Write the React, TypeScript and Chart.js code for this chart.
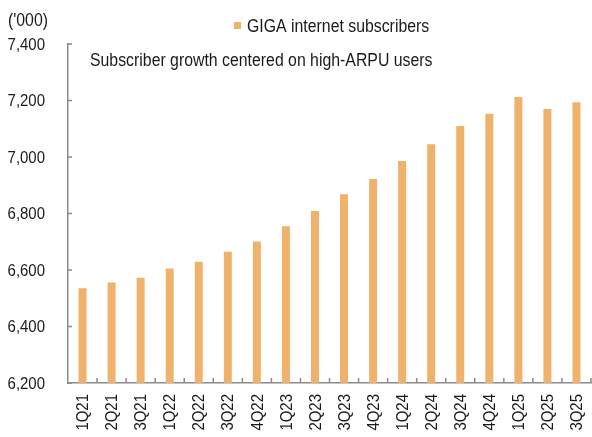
import React, { useEffect, useRef } from "react";
import { Chart, registerables } from "chart.js";

Chart.register(...registerables);

const categories = ["1Q21","2Q21","3Q21","1Q22","2Q22","3Q22","4Q22","1Q23","2Q23","3Q23","4Q23","1Q24","2Q24","3Q24","4Q24","1Q25","2Q25","3Q25"];
const subscribers = [6535, 6556, 6573, 6605, 6629, 6665, 6701, 6755, 6809, 6868, 6922, 6986, 7045, 7110, 7153, 7212, 7170, 7194];
const yTicks = [6200, 6400, 6600, 6800, 7000, 7200, 7400];
const seriesLabel = "GIGA internet subscribers";
const unitLabel = "('000)";
const noteText = "Subscriber growth centered on high-ARPU users";

const FONT = "'Liberation Sans', Arial, sans-serif";
const BAR = "#F0B26B";
const AXIS = "#8a8a8a";
const TEXT = "#1a1a1a";
const SQUEEZE = 0.88;

function squeezedText(ctx: any, text: string, x: number, y: number, align: string) {
  ctx.save();
  ctx.translate(x, y);
  ctx.scale(SQUEEZE, 1);
  ctx.textAlign = align;
  ctx.fillText(text, 0, 0);
  ctx.restore();
}

export default function App() {
  const ref = useRef<HTMLCanvasElement | null>(null);
  useEffect(() => {
    document.body.style.margin = "0";
    const extras = {
      id: "extras",
      afterDraw(chart: any) {
        const ctx = chart.ctx;
        const y = chart.scales.y;
        const x = chart.scales.x;
        ctx.save();
        ctx.strokeStyle = AXIS;
        ctx.lineWidth = 1.5;
        const step = x.getPixelForValue(1) - x.getPixelForValue(0);
        y.ticks.forEach((t: any) => {
          const py = y.getPixelForValue(t.value);
          ctx.beginPath();
          ctx.moveTo(x.left, py);
          ctx.lineTo(x.left + 4, py);
          ctx.stroke();
        });
        for (let i = 0; i < categories.length; i++) {
          const px = x.getPixelForValue(i) + step / 2;
          ctx.beginPath();
          ctx.moveTo(px, y.bottom);
          ctx.lineTo(px, y.bottom - 5);
          ctx.stroke();
        }
        ctx.fillStyle = TEXT;
        ctx.textBaseline = "middle";
        // y tick labels
        ctx.font = "17px " + FONT;
        y.ticks.forEach((t: any) => {
          const py = y.getPixelForValue(t.value);
          squeezedText(ctx, Number(t.value).toLocaleString("en-US"), 45, py + 1, "right");
        });
        // x tick labels (rotated)
        categories.forEach((c, i) => {
          const px = x.getPixelForValue(i);
          ctx.save();
          ctx.translate(px + 1, y.bottom + 11);
          ctx.rotate(-Math.PI / 2);
          ctx.scale(SQUEEZE, 1);
          ctx.textAlign = "right";
          ctx.fillText(c, 0, 0);
          ctx.restore();
        });
        // titles and legend
        ctx.font = "18px " + FONT;
        squeezedText(ctx, unitLabel, 8, 21, "left");
        squeezedText(ctx, noteText, 90, 61, "left");
        ctx.fillStyle = BAR;
        ctx.fillRect(234, 22, 7, 7);
        ctx.fillStyle = TEXT;
        squeezedText(ctx, seriesLabel, 247, 27, "left");
        ctx.restore();
      },
    };
    const chart = new Chart(ref.current as HTMLCanvasElement, {
      type: "bar",
      data: {
        labels: categories,
        datasets: [
          {
            label: seriesLabel,
            data: subscribers,
            backgroundColor: BAR,
            barPercentage: 0.55,
            categoryPercentage: 0.5,
          },
        ],
      },
      options: {
        animation: false,
        responsive: false,
        devicePixelRatio: 1,
        layout: { padding: { top: 44, right: 1, left: 0, bottom: 0 } },
        plugins: { legend: { display: false }, tooltip: { enabled: false } },
        scales: {
          x: {
            grid: { display: false, drawTicks: false },
            border: { display: true, color: AXIS, width: 1.5 },
            ticks: { display: false, autoSkip: false },
            afterFit: (s: any) => { s.height = 54; },
          },
          y: {
            min: 6200,
            max: 7400,
            grid: { display: false, drawTicks: false },
            border: { display: true, color: AXIS, width: 1.5 },
            ticks: { display: false, stepSize: 200 },
            afterFit: (s: any) => { s.width = 68; },
          },
        },
      },
      plugins: [extras],
    });
    return () => chart.destroy();
  }, []);
  return (
    <div style={{ position: "absolute", left: 0, top: 0, width: 592, height: 437, background: "#fff" }}>
      <canvas ref={ref} width={592} height={437} style={{ width: 592, height: 437 }} />
    </div>
  );
}
